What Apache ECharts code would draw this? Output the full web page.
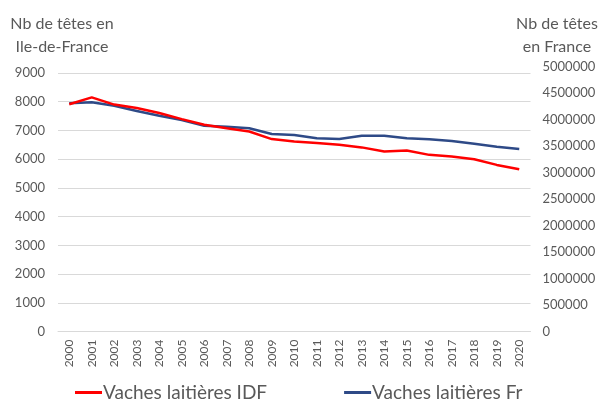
<!DOCTYPE html>
<html>
<head>
<meta charset="utf-8">
<script src="https://cdn.jsdelivr.net/npm/echarts@6/dist/echarts.min.js"></script>
<style>
html,body{margin:0;padding:0;background:#fff;}
#chart{width:603px;height:403px;}
</style>
</head>
<body>
<div id="chart"></div>
<script>
const years = ['2000','2001','2002','2003','2004','2005','2006','2007','2008','2009','2010','2011','2012','2013','2014','2015','2016','2017','2018','2019','2020'];
const idfValues = [7910,8150,7900,7780,7605,7395,7200,7080,6965,6700,6615,6560,6500,6410,6270,6300,6150,6090,6000,5800,5650];
const frValues = [4306000,4325000,4260000,4160000,4072000,3990000,3880000,3864000,3834000,3726000,3708000,3645000,3632000,3694000,3694000,3645000,3626000,3594000,3543000,3487000,3443000];
const seriesNames = ['Vaches laitières IDF','Vaches laitières Fr'];
const leftTitle = 'Nb de têtes en\nIle-de-France';
const rightTitle = 'Nb de têtes\nen France';

const FONT = 'Lato, "Open Sans", sans-serif';
const GRAY = '#595959';
const GRID = '#D9D9D9';

const chart = echarts.init(document.getElementById('chart'), null, {renderer: 'canvas'});
chart.setOption({
  animation: false,
  backgroundColor: '#ffffff',
  textStyle: {fontFamily: FONT},
  graphic: [
    {type: 'text', x: 62, y: 12, style: {text: leftTitle, fill: GRAY, font: '16px ' + FONT, textAlign: 'center', lineHeight: 23}},
    {type: 'text', x: 557, y: 12, style: {text: rightTitle, fill: GRAY, font: '16px ' + FONT, textAlign: 'center', lineHeight: 23}}
  ],
  grid: [
    {left: 58, right: 72.5, top: 73, bottom: 71.5},
    {left: 58, right: 72.5, top: 66.5, bottom: 71.5}
  ],
  legend: {
    top: 383,
    left: 75,
    padding: 0,
    itemGap: 77,
    itemWidth: 27,
    itemHeight: 3,
    icon: 'rect',
    data: seriesNames,
    textStyle: {fontSize: 19, color: GRAY, fontFamily: FONT, padding: [0,0,0,-4]}
  },
  xAxis: [
    {
      type: 'category', gridIndex: 0, data: years, boundaryGap: true,
      axisLine: {lineStyle: {color: GRID}}, axisTick: {show: false},
      axisLabel: {rotate: 90, color: GRAY, fontSize: 12, margin: 8, interval: 0, fontFamily: FONT}
    },
    {
      type: 'category', gridIndex: 1, data: years, boundaryGap: true, show: false
    }
  ],
  yAxis: [
    {
      type: 'value', gridIndex: 0, min: 0, max: 9000, interval: 1000,
      axisLine: {show: false}, axisTick: {show: false},
      splitLine: {lineStyle: {color: GRID, width: 1}},
      axisLabel: {color: GRAY, fontSize: 13, margin: 13, fontFamily: FONT, formatter: v => String(v)}
    },
    {
      type: 'value', gridIndex: 1, position: 'right', min: 0, max: 5000000, interval: 500000,
      axisLine: {show: false}, axisTick: {show: false}, splitLine: {show: false},
      axisLabel: {color: GRAY, fontSize: 13, margin: 12, fontFamily: FONT, formatter: v => String(v)}
    }
  ],
  series: [
    {
      name: seriesNames[0], type: 'line', xAxisIndex: 0, yAxisIndex: 0, data: idfValues,
      symbol: 'none', lineStyle: {color: '#FF0000', width: 2.5}, itemStyle: {color: '#FF0000'}, z: 3
    },
    {
      name: seriesNames[1], type: 'line', xAxisIndex: 1, yAxisIndex: 1, data: frValues,
      symbol: 'none', lineStyle: {color: '#2E4A87', width: 2.5}, itemStyle: {color: '#2E4A87'}, z: 2
    }
  ]
});
</script>
</body>
</html>
